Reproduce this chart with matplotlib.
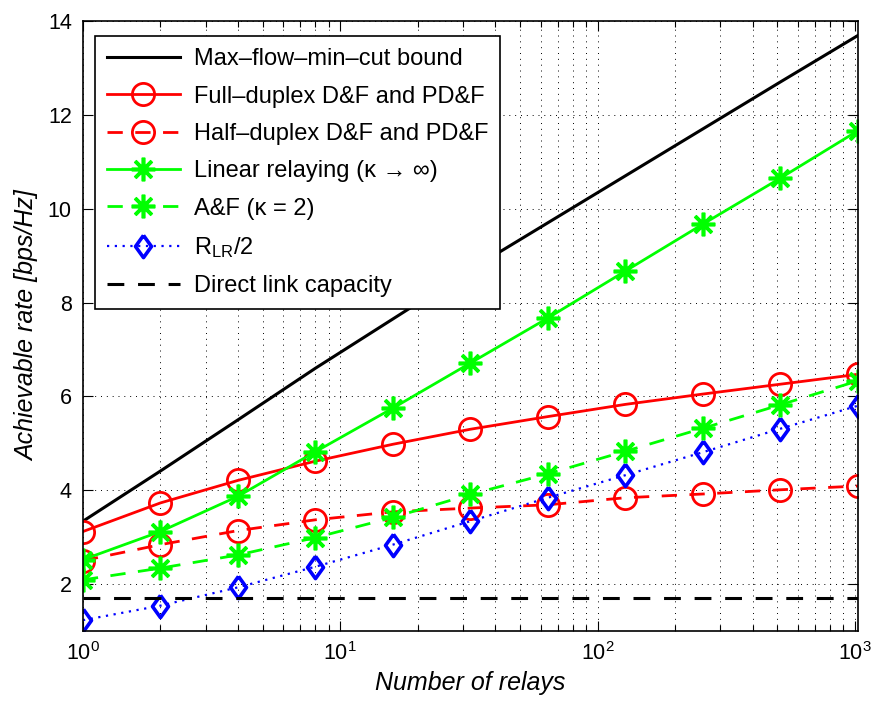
import numpy as np
import matplotlib
matplotlib.use('Agg')
from matplotlib import pyplot as plt
from matplotlib.ticker import LogLocator, FixedLocator, NullFormatter

plt.rcParams['font.family'] = ['Liberation Sans', 'DejaVu Sans']
plt.rcParams['mathtext.fontset'] = 'custom'
plt.rcParams['mathtext.rm'] = 'Liberation Sans'
plt.rcParams['mathtext.it'] = 'Liberation Sans:italic'

#%% Dados
relays = [1, 2, 4, 8, 16, 32, 64, 128, 256, 512, 1024]

max_flow = [3.34, 4.41, 5.5, 6.6, 7.65, 8.7, 9.7, 10.7, 11.7, 12.7, 13.69]
full_duplex = [3.12, 3.73, 4.21, 4.62, 4.98, 5.30, 5.57, 5.83, 6.05, 6.26, 6.47]
half_duplex = [2.50, 2.84, 3.14, 3.37, 3.54, 3.62, 3.69, 3.84, 3.92, 4.01, 4.09]
linear_relay = [2.52, 3.12, 3.87, 4.82, 5.75, 6.71, 7.67, 8.67, 9.67, 10.65, 11.66]
af_k2 = [2.09, 2.34, 2.62, 2.99, 3.42, 3.91, 4.35, 4.83, 5.32, 5.82, 6.33]
r_lr_half = [1.23, 1.54, 1.93, 2.37, 2.84, 3.34, 3.84, 4.32, 4.81, 5.31, 5.80]
direct_link = 1.70

labels = ['Max\u2013flow\u2013min\u2013cut bound',
          'Full\u2013duplex D&F and PD&F',
          'Half\u2013duplex D&F and PD&F',
          'Linear relaying (\u03ba \u2192 \u221e)',
          'A&F (\u03ba = 2)',
          'R$_{\\mathrm{LR}}$/2',
          'Direct link capacity']

#%% Figura
fig = plt.figure(figsize=(8.76, 7.04), dpi=100)
ax = fig.add_axes([0.0947, 0.1037, 0.8843, 0.8663])

dash = (0, (5.5, 4.5))
star = (8, 2, 0)
# losango estilo MATLAB (um pouco mais alto que largo)
diamond = [(0, 1), (0.72, 0), (0, -1), (-0.72, 0), (0, 1)]

ax.plot(relays, max_flow, color='k', lw=2.2, label=labels[0])
ax.plot(relays, full_duplex, color='r', lw=2, marker='o', ms=16, mew=2,
        mfc='none', label=labels[1])
ax.plot(relays, half_duplex, color='r', lw=2, ls=dash, marker='o', ms=16,
        mew=2, mfc='none', label=labels[2])
ax.plot(relays, linear_relay, color='#00ff00', lw=2, marker=star, ms=17,
        mew=2.6, label=labels[3])
ax.plot(relays, af_k2, color='#00ff00', lw=2, ls=dash, marker=star, ms=17,
        mew=2.6, label=labels[4])
ax.plot(relays, r_lr_half, color='b', lw=1.6, ls=(0, (1, 2.5)), marker=diamond,
        ms=16, mew=2.6, mfc='none', label=labels[5])
ax.plot([relays[0], relays[-1]], [direct_link, direct_link], color='k', lw=2.2,
        ls=dash, label=labels[6])

ax.set_xscale('log')
ax.set_xlim(1, 1024)
ax.set_ylim(1, 14)
ax.yaxis.set_major_locator(FixedLocator([2, 4, 6, 8, 10, 12, 14]))
ax.xaxis.set_major_locator(LogLocator(base=10))
ax.xaxis.set_minor_locator(LogLocator(base=10, subs=np.arange(2, 10)))
ax.xaxis.set_minor_formatter(NullFormatter())

ax.grid(True, which='major', ls=(0, (1, 5)), color='k', lw=0.7)
ax.grid(True, which='minor', axis='x', ls=(0, (1, 5)), color='k', lw=0.7)
ax.tick_params(which='both', direction='in', top=True, right=True,
               labelsize=15.5, width=0.8)
ax.tick_params(which='major', length=7, pad=8)
ax.tick_params(which='minor', length=4)
for s in ax.spines.values():
    s.set_linewidth(1.2)

ax.set_xlabel('Number of relays', fontsize=18, style='italic', labelpad=4)
ax.set_ylabel('Achievable rate [bps/Hz]', fontsize=18, style='italic',
              labelpad=6)

leg = ax.legend(loc='upper left', fontsize=17, fancybox=False, framealpha=1,
                edgecolor='k', handlelength=3.1, handletextpad=0.6,
                borderpad=0.5, labelspacing=0.65, borderaxespad=0,
                bbox_to_anchor=(0.0155, 0.975))
leg.get_frame().set_linewidth(1.2)

plt.savefig('out.png', dpi=100)
